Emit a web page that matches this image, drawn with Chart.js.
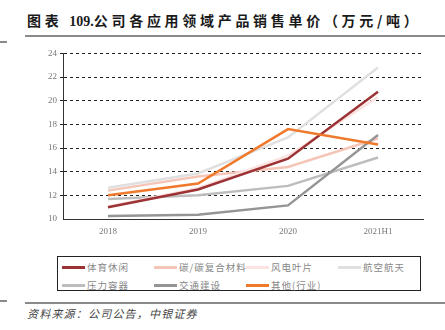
<!DOCTYPE html>
<html>
<head>
<meta charset="utf-8">
<script src="https://cdn.jsdelivr.net/npm/chart.js@4"></script>
<style>
  body { margin: 0; width: 445px; height: 330px; background: #fff; position: relative; overflow: hidden;
         font-family: "Noto Sans CJK SC", sans-serif; }
  #title { position: absolute; left: 27px; top: 10px; font-size: 14px; font-weight: bold; letter-spacing: 3.7px; color: #1a1a1a; white-space: nowrap; }
  #title .num { font-family: "Liberation Serif", serif; letter-spacing: 0; }
  .rule { position: absolute; height: 0; border-top: 2px solid #8a8a8a; }
  #wrap { position: absolute; left: 0; top: 45px; width: 445px; height: 200px; }
  #legend { position: absolute; left: 57px; top: 256px; width: 364px; height: 35px; border: 1px solid #222; box-sizing: border-box; }
  .item { position: absolute; display: flex; align-items: center; font-size: 9.5px; color: #888; letter-spacing: 1px; white-space: nowrap; }
  .item i { display: inline-block; width: 23px; height: 3px; margin-right: 2px; }
  #source { position: absolute; left: 27px; top: 305px; font-size: 11px; font-style: italic; color: #444; letter-spacing: 1.2px; }
</style>
</head>
<body>
<div id="title">图表 <span class="num">109.</span>公司各应用领域产品销售单价（万元/吨）</div>
<div class="rule" style="left:25px; width:420px; top:35px;"></div>
<div class="rule" style="left:0; width:7px; top:41px;"></div>
<div id="wrap"><canvas id="chart"></canvas></div>
<div id="legend"></div>
<div class="rule" style="left:25px; width:420px; top:302px;"></div>
<div class="rule" style="left:0; width:7px; top:300px;"></div>
<div id="source">资料来源：公司公告，中银证券</div>
<script>
const categories = ['2018', '2019', '2020', '2021H1'];
const seriesNames = ['体育休闲', '碳/碳复合材料', '风电叶片', '航空航天', '压力容器', '交通建设', '其他(行业)'];
const sports    = [11.0, 12.5, 15.1, 20.75];
const carbon    = [12.4, 13.6, 14.4, 16.8];
const wind      = [11.05, 12.6, 15.35, 20.3];
const aerospace = [12.65, 13.85, 16.9, 22.8];
const pressure  = [11.7, 12.0, 12.8, 15.2];
const transport = [10.25, 10.35, 11.15, 17.1];
const other     = [12.0, 13.0, 17.6, 16.3];
const yTicks = [10, 12, 14, 16, 18, 20, 22, 24];

const values = [sports, carbon, wind, aerospace, pressure, transport, other];
const colors = ['#9b3234', '#f5c6b8', '#fde2e2', '#e0e0e0', '#bdbdbd', '#959595', '#ef7a2c'];
const drawOrder = [2, 5, 3, 6, 4, 1, 0];

const datasets = seriesNames.map((name, i) => ({
  label: name,
  data: values[i],
  borderColor: colors[i],
  backgroundColor: colors[i],
  borderWidth: 2.5,
  pointRadius: 0,
  tension: 0,
  order: drawOrder[i]
}));

const tickFont = { family: '"Liberation Serif", "DejaVu Serif", serif', size: 9 };

const chart = new Chart(document.getElementById('chart'), {
  type: 'line',
  data: { labels: categories, datasets: datasets },
  options: {
    responsive: true,
    maintainAspectRatio: false,
    animation: false,
    layout: { padding: { top: 8, right: 22, left: 0, bottom: 0 } },
    plugins: { legend: { display: false }, tooltip: { enabled: false } },
    scales: {
      x: {
        offset: true,
        grid: {
          offset: true,
          drawOnChartArea: false,
          tickLength: 4,
          tickColor: ctx => ctx.index === categories.length ? '#333' : 'rgba(0,0,0,0)'
        },
        border: { color: '#333', width: 1 },
        ticks: { color: '#777', font: tickFont, padding: 3 },
        afterFit: s => { s.height = 26; }
      },
      y: {
        min: 10,
        max: 24,
        afterBuildTicks: s => { s.ticks = yTicks.map(v => ({ value: v })); },
        grid: {
          color: ctx => ctx.tick && ctx.tick.value === 10 ? 'rgba(0,0,0,0)' : '#222',
          lineWidth: 1,
          tickLength: 3,
          drawTicks: true
        },
        border: { color: '#333', width: 1, dash: [3, 3] },
        ticks: { color: '#777', font: tickFont, padding: 3 },
        afterFit: s => { s.width = 63; }
      }
    }
  }
});

// legend, 4 columns
const legend = document.getElementById('legend');
chart.data.datasets.forEach((ds, i) => {
  const el = document.createElement('div');
  el.className = 'item';
  el.style.left = (4 + (i % 4) * 92) + 'px';
  el.style.top = (i < 4 ? 3 : 21) + 'px';
  el.innerHTML = '<i style="background:' + ds.borderColor + '"></i>' + ds.label;
  legend.appendChild(el);
});
</script>
</body>
</html>
